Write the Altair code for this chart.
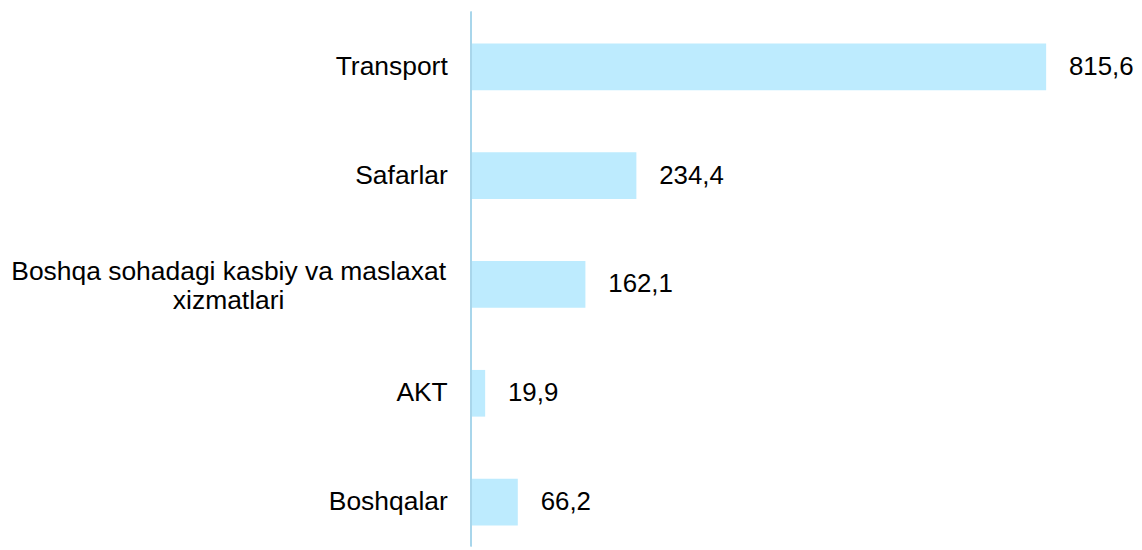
import altair as alt
import pandas as pd

categories = ["Transport", "Safarlar", "Boshqa sohadagi kasbiy va maslaxat\nxizmatlari", "AKT", "Boshqalar"]
values = [815.6, 234.4, 162.1, 19.9, 66.2]

df = pd.DataFrame({"category": categories, "value": values})

FONT = "Liberation Sans"
FS_CAT = 26.6
FS_VAL = 26

y_scale = alt.Scale(range=[0.75, 548.25], paddingInner=0.571, paddingOuter=0.2855)

y_enc = alt.Y(
    "category:N",
    sort=None,
    scale=y_scale,
    axis=alt.Axis(
        title=None,
        domain=False,
        ticks=False,
        labelFont=FONT,
        labelFontSize=FS_CAT,
        labelColor="#000000",
        labelPadding=24,
        labelLimit=600,
        labelExpr="indexof(datum.value, '\\n') >= 0 ? '' : datum.value",
    ),
)

x_enc = alt.X(
    "value:Q",
    scale=alt.Scale(domain=[0, 850], nice=False, zero=True),
    axis=None,
)

base = alt.Chart(df)

bars = base.mark_bar(color="#BDEBFE").encode(x=x_enc, y=y_enc)

texts = base.transform_calculate(
    lbl="replace(format(datum.value, '.1f'), '.', ',')"
).mark_text(
    align="left", baseline="middle", dx=23, font=FONT, fontSize=FS_VAL, color="#000000"
).encode(
    x=x_enc,
    y=y_enc,
    text="lbl:N",
)

wrapped = base.transform_filter(
    "indexof(datum.category, '\\n') >= 0"
).transform_calculate(
    lines="split(datum.category, '\\n')"
).mark_text(
    align="center", baseline="middle", dy=-12, lineHeight=29,
    font=FONT, fontSize=FS_CAT, color="#000000"
).encode(
    x=alt.value(-244),
    y=y_enc,
    text="lines:N",
)

rule = alt.Chart(df).mark_rule(color="#A8D6EA", strokeWidth=1.5).encode(
    x=alt.value(0), y=alt.value(0), y2=alt.value(538)
)

chart = alt.layer(bars, texts, wrapped, rule).properties(
    width=603,
    height=538,
    autosize=alt.AutoSizeParams(type="none"),
    padding={"left": 466, "top": 2, "right": 64, "bottom": 0},
).configure(background="#ffffff").configure_view(stroke=None)

chart.save("out.html", embed_options={"renderer": "svg", "actions": False})
